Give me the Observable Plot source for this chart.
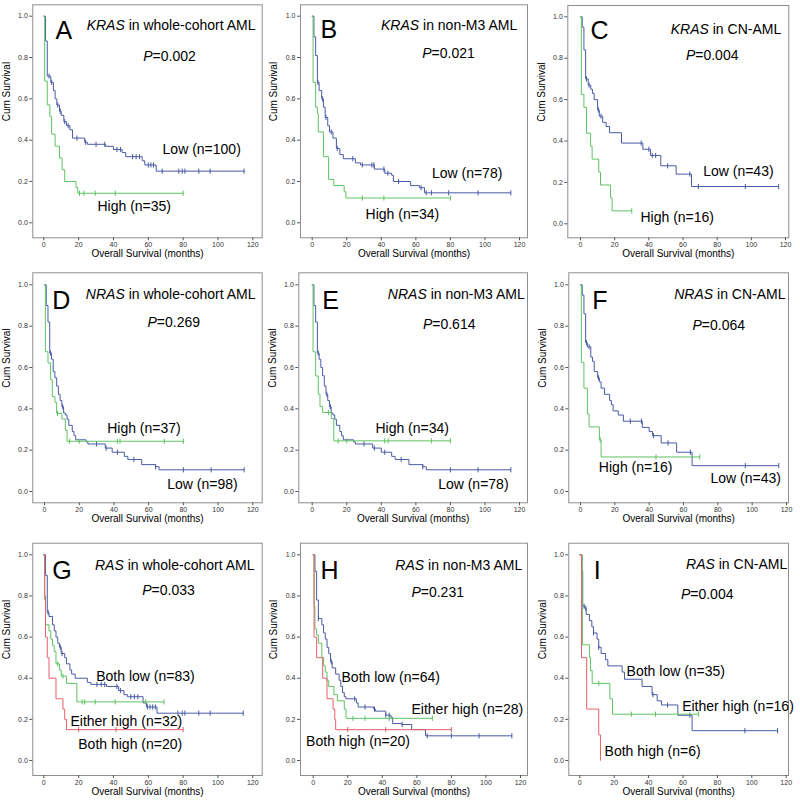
<!DOCTYPE html>
<html><head><meta charset="utf-8">
<script src="https://cdn.jsdelivr.net/npm/d3@7"></script>
<script src="https://cdn.jsdelivr.net/npm/@observablehq/plot@0.6"></script>
<style>
body{margin:0;background:#fff;}
#wrap{position:relative;width:800px;height:803px;overflow:hidden;background:#fff;}
</style></head><body><div id="wrap"></div>
<script>
// ---------- tick values ----------
const xTicks = [0, 20, 40, 60, 80, 100, 120];
const yTicks = [0, 0.2, 0.4, 0.6, 0.8, 1.0];
const xTitle = "Overall Survival (months)";
const yTitle = "Cum Survival";

// ---------- panel texts ----------
const letters = ["A", "B", "C", "D", "E", "F", "G", "H", "I"];
const genes = ["KRAS", "KRAS", "KRAS", "NRAS", "NRAS", "NRAS", "RAS", "RAS", "RAS"];
const cohorts = [" in whole-cohort AML", " in non-M3 AML", " in CN-AML",
                 " in whole-cohort AML", " in non-M3 AML", " in CN-AML",
                 " in whole-cohort AML", " in non-M3 AML", " in CN-AML"];
const pValues = ["0.002", "0.021", "0.004", "0.269", "0.614", "0.064", "0.033", "0.231", "0.004"];

// ---------- curves: event times, survival after event, censor times ----------
// A  KRAS whole cohort
const A_low_t = [1, 2, 4, 5.5, 6.5, 7.5, 9, 10, 11.5, 13, 15, 16.5, 23.5, 25, 35.5, 40, 45, 47, 56.5, 58, 64.5];
const A_low_s = [0.88, 0.71, 0.68, 0.64, 0.60, 0.57, 0.54, 0.52, 0.49, 0.47, 0.45, 0.41, 0.39, 0.38, 0.37, 0.355, 0.34, 0.32, 0.30, 0.28, 0.25];
const A_low_c = [3, 4.5, 8, 9.5, 12, 14, 19, 24, 30, 35, 42, 44, 51, 53, 55, 60, 61.5, 63, 68, 77.5, 79.5, 81, 89, 95.5, 115];
const A_high_t = [0.5, 2, 3.5, 4.5, 6.5, 9, 10.5, 12, 18.5, 19.5];
const A_high_s = [0.686, 0.571, 0.514, 0.429, 0.371, 0.314, 0.257, 0.2, 0.171, 0.143];
const A_high_c = [20.5, 23, 29.5, 41, 80];
// B  KRAS non-M3
const B_low_t = [1, 2, 3, 4, 5.5, 6.5, 7.5, 9, 10, 12, 14, 16, 18, 25, 28, 36, 42, 46, 47, 57, 62, 65];
const B_low_s = [0.90, 0.81, 0.68, 0.64, 0.60, 0.56, 0.51, 0.47, 0.44, 0.41, 0.36, 0.33, 0.31, 0.29, 0.28, 0.26, 0.24, 0.23, 0.20, 0.18, 0.17, 0.145];
const B_low_c = [3.3, 6, 8, 11, 14.5, 23.5, 29, 34.5, 35.7, 41.5, 43.8, 50, 63, 66, 69, 79, 96, 115];
const B_high_t = [0.5, 2, 3, 3.5, 6.5, 9.5, 12.5, 18.5, 19.5];
const B_high_s = [0.68, 0.56, 0.53, 0.44, 0.32, 0.21, 0.18, 0.15, 0.12];
const B_high_c = [29, 41.5, 80];
// C  KRAS CN-AML
const C_low_t = [1, 2, 3, 4.5, 6, 7, 8, 10, 11, 13, 15, 17, 24, 36.5, 41, 47, 56, 65];
const C_low_s = [0.95, 0.84, 0.70, 0.67, 0.65, 0.63, 0.60, 0.55, 0.52, 0.49, 0.47, 0.44, 0.39, 0.36, 0.33, 0.28, 0.24, 0.18];
const C_low_c = [3.5, 5, 10.5, 12, 35.5, 40, 42, 44, 51, 64, 69, 96.5, 116];
const C_high_t = [0.5, 2, 3.5, 5.9, 6.8, 10.7, 11.7, 17.6, 18.5];
const C_high_s = [0.625, 0.5625, 0.4375, 0.375, 0.3125, 0.25, 0.1875, 0.125, 0.0625];
const C_high_c = [30];
// D  NRAS whole cohort
const D_low_t = [1, 2, 3, 4, 5, 6, 7, 8, 9, 10, 11, 12, 13, 14, 16, 17, 18, 24, 25, 35, 39, 46, 48, 56, 64, 66];
const D_low_s = [0.90, 0.82, 0.67, 0.64, 0.58, 0.55, 0.51, 0.47, 0.44, 0.41, 0.38, 0.37, 0.35, 0.32, 0.29, 0.27, 0.25, 0.24, 0.23, 0.21, 0.19, 0.17, 0.155, 0.13, 0.12, 0.105];
const D_low_c = [3.5, 10.5, 30, 35.5, 42, 51.5, 64, 80, 96, 115];
const D_high_t = [0.5, 2, 3.5, 4.5, 6, 7, 10, 12, 13];
const D_high_s = [0.676, 0.622, 0.541, 0.459, 0.432, 0.378, 0.351, 0.297, 0.243];
const D_high_c = [7.5, 14.5, 20, 42, 43.5, 69, 80];
// E  NRAS non-M3
const E_low_t = [1, 2, 3, 4, 5, 6, 7, 8, 9, 10, 11, 12, 13, 14, 16, 17, 18, 24, 25, 35, 40, 46, 48, 56, 64, 66];
const E_low_s = [0.90, 0.82, 0.67, 0.64, 0.60, 0.56, 0.51, 0.47, 0.44, 0.41, 0.38, 0.37, 0.35, 0.32, 0.29, 0.27, 0.25, 0.24, 0.23, 0.21, 0.19, 0.17, 0.155, 0.13, 0.12, 0.105];
const E_low_c = [3.5, 8.5, 10.5, 30, 36, 42, 51.5, 64, 80, 96, 115];
const E_high_t = [0.5, 2, 3.5, 4.5, 6, 11, 12.5];
const E_high_s = [0.676, 0.559, 0.471, 0.412, 0.382, 0.353, 0.245];
const E_high_c = [9.5, 15, 20, 42, 44, 69, 80];
// F  NRAS CN-AML
const F_low_t = [1, 2, 3, 4, 6, 7, 8, 10, 11, 12, 14, 17, 18, 19, 22, 25, 36, 40, 42, 47, 56, 65];
const F_low_s = [0.95, 0.86, 0.72, 0.70, 0.65, 0.63, 0.58, 0.55, 0.53, 0.50, 0.47, 0.44, 0.42, 0.39, 0.37, 0.34, 0.31, 0.29, 0.27, 0.235, 0.19, 0.125];
const F_low_c = [3.5, 5, 10.5, 29, 35.5, 42.5, 51, 64, 96, 115.5];
const F_high_t = [0.5, 2, 4, 5, 11, 12];
const F_high_s = [0.625, 0.5, 0.375, 0.3125, 0.25, 0.167];
const F_high_c = [11.5, 44, 69.5];
// G  RAS whole cohort
const G_bothLow_t = [1, 2, 3, 5, 6, 7, 8, 9, 10, 12, 13, 15, 16, 18, 25, 27, 36, 43, 46, 48, 57, 59, 65];
const G_bothLow_s = [0.90, 0.72, 0.70, 0.66, 0.63, 0.60, 0.57, 0.55, 0.52, 0.50, 0.47, 0.44, 0.42, 0.40, 0.38, 0.37, 0.36, 0.34, 0.32, 0.31, 0.28, 0.26, 0.23];
const G_bothLow_c = [2.5, 9.5, 10.5, 30.5, 33, 35, 42, 44, 50, 52, 54, 59.5, 61, 62.5, 64, 77, 79.5, 81, 89, 95.5, 114.5];
const G_either_t = [0.5, 1, 3, 4, 5, 6, 7, 9, 10, 13, 19];
const G_either_s = [0.78, 0.66, 0.63, 0.59, 0.56, 0.53, 0.47, 0.44, 0.41, 0.375, 0.285];
const G_either_c = [8, 11, 22, 23.5, 29.5, 41, 58.5, 69];
const G_bothHigh_t = [0.5, 1, 2, 3, 7, 11, 12, 13];
const G_bothHigh_s = [0.8, 0.6, 0.5, 0.4, 0.3, 0.25, 0.2, 0.15];
const G_bothHigh_c = [20, 41.5, 80];
// H  RAS non-M3
const H_bothLow_t = [1, 2, 3, 5, 6, 7, 8, 9, 10, 11, 13, 15, 16, 17, 18, 19, 25, 26, 35, 36, 42, 45, 46, 51, 57, 65];
const H_bothLow_s = [0.92, 0.78, 0.69, 0.66, 0.62, 0.59, 0.55, 0.52, 0.48, 0.45, 0.42, 0.39, 0.36, 0.33, 0.31, 0.30, 0.28, 0.26, 0.25, 0.24, 0.22, 0.21, 0.18, 0.175, 0.15, 0.12];
const H_bothLow_c = [3, 10.5, 24, 30, 35.5, 42, 44, 51.5, 66, 80, 96, 115];
const H_either_t = [0.5, 1, 2, 3, 5, 6, 7, 8, 9, 12, 14, 18, 19];
const H_either_s = [0.75, 0.64, 0.61, 0.57, 0.50, 0.46, 0.43, 0.39, 0.36, 0.32, 0.29, 0.25, 0.205];
const H_either_c = [23, 30, 44, 69];
const H_bothHigh_t = [0.5, 2, 5.5, 8, 11.5, 12.5, 13];
const H_bothHigh_s = [0.6, 0.5, 0.4, 0.3, 0.25, 0.2, 0.15];
const H_bothHigh_c = [20, 42, 80];
// I  RAS CN-AML
const I_bothLow_t = [1, 1.7, 3, 3.7, 5.6, 7, 8, 10, 11, 12.4, 15, 16.3, 24.6, 26, 36.2, 42, 45, 47.5, 57, 65.3];
const I_bothLow_s = [0.92, 0.75, 0.74, 0.71, 0.68, 0.65, 0.62, 0.59, 0.55, 0.52, 0.49, 0.46, 0.43, 0.395, 0.36, 0.32, 0.29, 0.27, 0.22, 0.145];
const I_bothLow_c = [2.5, 3.5, 8, 11, 42.5, 51, 64, 96, 115];
const I_either_t = [1.5, 5.6, 6.2, 7.2, 17.5, 19];
const I_either_s = [0.5625, 0.5, 0.4375, 0.375, 0.3, 0.225];
const I_either_c = [11, 30, 44, 69];
const I_bothHigh_t = [1, 4, 11, 12];
const I_bothHigh_s = [0.5, 0.25, 0.125, 0];
const I_bothHigh_c = [];

// ---------- group names ----------
const names = [
  ["Low (n=100)", "High (n=35)"],
  ["Low (n=78)", "High (n=34)"],
  ["Low (n=43)", "High (n=16)"],
  ["Low (n=98)", "High (n=37)"],
  ["Low (n=78)", "High (n=34)"],
  ["Low (n=43)", "High (n=16)"],
  ["Both low (n=83)", "Either high (n=32)", "Both high (n=20)"],
  ["Both low (n=64)", "Either high (n=28)", "Both high (n=20)"],
  ["Both low (n=35)", "Either high (n=16)", "Both high (n=6)"]
];
const series = [
  [[A_low_t, A_low_s, A_low_c], [A_high_t, A_high_s, A_high_c]],
  [[B_low_t, B_low_s, B_low_c], [B_high_t, B_high_s, B_high_c]],
  [[C_low_t, C_low_s, C_low_c], [C_high_t, C_high_s, C_high_c]],
  [[D_low_t, D_low_s, D_low_c], [D_high_t, D_high_s, D_high_c]],
  [[E_low_t, E_low_s, E_low_c], [E_high_t, E_high_s, E_high_c]],
  [[F_low_t, F_low_s, F_low_c], [F_high_t, F_high_s, F_high_c]],
  [[G_bothLow_t, G_bothLow_s, G_bothLow_c], [G_either_t, G_either_s, G_either_c], [G_bothHigh_t, G_bothHigh_s, G_bothHigh_c]],
  [[H_bothLow_t, H_bothLow_s, H_bothLow_c], [H_either_t, H_either_s, H_either_c], [H_bothHigh_t, H_bothHigh_s, H_bothHigh_c]],
  [[I_bothLow_t, I_bothLow_s, I_bothLow_c], [I_either_t, I_either_s, I_either_c], [I_bothHigh_t, I_bothHigh_s, I_bothHigh_c]]
];

// ---------- layout (pixels, styles) ----------
const colors = ["#4a5ba6", "#5fc363", "#e8606a"];
const layout = [
  {svg:[0,0,265,265], frame:[32.3,4.3,261.7,237.3], x0:43.3, x120:252.3, y1:15.7, y0:222.3, letter:[22.7,16.7], title:[6.7,15.7], p:[136.7,46.7], labels:[[68.2,0.355],[30.8,0.08]]},
  {svg:[265,0,265,265], frame:[300,4.3,527,237.3], x0:311.7, x120:519, y1:15.7, y0:222.3, letter:[20,15.7], title:[10.3,15.7], p:[148,43.7], labels:[[69.3,0.237],[30.9,0.04]]},
  {svg:[530,0,270,265], frame:[567.3,5,788.3,237.3], x0:580, x120:785, y1:16.3, y0:223.3, letter:[22.7,15.8], title:[7.6,18.3], p:[144.4,45], labels:[[71.8,0.254],[35.1,0.028]]},
  {svg:[0,265,265,265], frame:[32.3,272.3,261.7,502.3], x0:44, x120:252.3, y1:284.3, y0:491, letter:[19.4,18.5], title:[6.7,16], p:[141,44.4], labels:[[70.7,0.034],[36.1,0.307]]},
  {svg:[265,265,265,265], frame:[298.3,272.3,527,502.3], x0:311.7, x120:519, y1:284.3, y0:491, letter:[23.4,18.5], title:[2.7,16], p:[150.4,46], labels:[[72.9,0.034],[36.6,0.307]]},
  {svg:[530,265,270,265], frame:[568.3,272.3,788,502.3], x0:580, x120:786, y1:284.3, y0:491, letter:[23.4,18], title:[3,16], p:[150,47.7], labels:[[75.7,0.063],[10.7,0.114]]},
  {svg:[0,530,265,273], frame:[32.3,542.7,261.7,775], x0:43.3, x120:252.3, y1:554.3, y0:760, letter:[19.4,18.1], title:[7.7,17.3], p:[135.7,42.3], labels:[[30.1,0.409],[15.3,0.19],[19.8,0.078]]},
  {svg:[265,530,265,273], frame:[300,542.7,527,775], x0:312.7, x120:520, y1:554.3, y0:760, letter:[20,18.1], title:[5.3,17.3], p:[137.2,44], labels:[[16.4,0.401],[56.9,0.248],[-4.1,0.093]]},
  {svg:[530,530,270,273], frame:[568.3,542.7,788,775], x0:579.3, x120:785.7, y1:554.3, y0:760, letter:[25,18.1], title:[1.3,16.3], p:[138.4,45.6], labels:[[27.2,0.434],[59.5,0.263],[14.4,0.045]]}
];

function survAt(t, T, S) {
  let v = 1;
  for (let i = 0; i < T.length; i++) if (T[i] <= t) v = S[i];
  return v;
}
const censorTick = {draw(ctx, size) { const r = Math.sqrt(size / Math.PI); ctx.moveTo(0, -r); ctx.lineTo(0, r); }};
const FONT = "'Liberation Sans', Arial, Helvetica, sans-serif";
const NS = "http://www.w3.org/2000/svg";
const wrap = document.getElementById("wrap");

layout.forEach((g, i) => {
  const [L, T, W, H] = g.svg;
  const [fl, ft, fr, fb] = g.frame;
  const marks = [];
  marks.push(Plot.frame({stroke: "#8e8e8e", strokeWidth: 1}));
  marks.push(Plot.axisX({ticks: xTicks, tickSize: 3, tickPadding: 1.5, fontSize: 7, label: null, stroke: "#555", fill: "#333"}));
  marks.push(Plot.axisY({ticks: yTicks, tickSize: 3, tickPadding: 2, fontSize: 7, label: null, tickFormat: d3.format(".1f"), stroke: "#555", fill: "#333"}));
  series[i].forEach(([tt, ss, cc], k) => {
    const end = Math.max(tt[tt.length - 1], cc.length ? cc[cc.length - 1] : 0);
    const pts = [{x: 0, y: 1}].concat(tt.map((t, j) => ({x: t, y: ss[j]})), [{x: end, y: ss[ss.length - 1]}]);
    marks.push(Plot.line(pts, {x: "x", y: "y", curve: "step-after", stroke: colors[k], strokeWidth: 1}));
    const cens = cc.map(c => ({x: c, y: survAt(c, tt, ss)}));
    marks.push(Plot.dot(cens, {x: "x", y: "y", symbol: censorTick, r: 2.6, stroke: colors[k], fill: "none", strokeWidth: 1}));
  });
  const labs = names[i].map((n, k) => ({x: g.labels[k][0], y: g.labels[k][1], text: n}));
  marks.push(Plot.text(labs, {x: "x", y: "y", text: "text", textAnchor: "start", fontSize: 14, fill: "#000"}));
  marks.push(Plot.text([letters[i]], {frameAnchor: "top-left", dx: g.letter[0], dy: g.letter[1], textAnchor: "start", fontSize: 25, fill: "#000"}));
  marks.push(Plot.text([genes[i] + cohorts[i]], {frameAnchor: "top-right", dx: -g.title[0], dy: g.title[1], textAnchor: "end", fontSize: 14, fill: "#000"}));
  marks.push(Plot.text(["P=" + pValues[i]], {frameAnchor: "top-left", dx: g.p[0], dy: g.p[1], textAnchor: "middle", fontSize: 14, fill: "#000"}));
  marks.push(Plot.text([xTitle], {frameAnchor: "bottom", dy: 19.5, fontSize: 10, fill: "#000"}));
  marks.push(Plot.text([yTitle], {frameAnchor: "left", dx: -26.5, rotate: -90, fontSize: 10, fill: "#000"}));

  const svg = Plot.plot({
    width: W, height: H,
    marginLeft: fl - L, marginTop: ft - T, marginRight: L + W - fr, marginBottom: T + H - fb,
    insetLeft: g.x0 - fl, insetRight: fr - g.x120, insetTop: g.y1 - ft, insetBottom: fb - g.y0,
    x: {type: "linear", domain: [0, 120]},
    y: {type: "linear", domain: [0, 1]},
    style: {fontFamily: FONT, background: "transparent", overflow: "visible"},
    marks
  });
  svg.style.position = "absolute";
  svg.style.left = L + "px";
  svg.style.top = T + "px";
  // italic gene names and P
  svg.querySelectorAll("text").forEach(el => {
    const s = el.textContent;
    if (s === genes[i] + cohorts[i]) {
      el.textContent = "";
      const a = document.createElementNS(NS, "tspan"); a.setAttribute("font-style", "italic"); a.textContent = genes[i];
      const b = document.createElementNS(NS, "tspan"); b.textContent = cohorts[i];
      el.append(a, b);
    } else if (s === "P=" + pValues[i]) {
      el.textContent = "";
      const a = document.createElementNS(NS, "tspan"); a.setAttribute("font-style", "italic"); a.textContent = "P";
      const b = document.createElementNS(NS, "tspan"); b.textContent = "=" + pValues[i];
      el.append(a, b);
    }
  });
  wrap.appendChild(svg);
});
</script></body></html>
